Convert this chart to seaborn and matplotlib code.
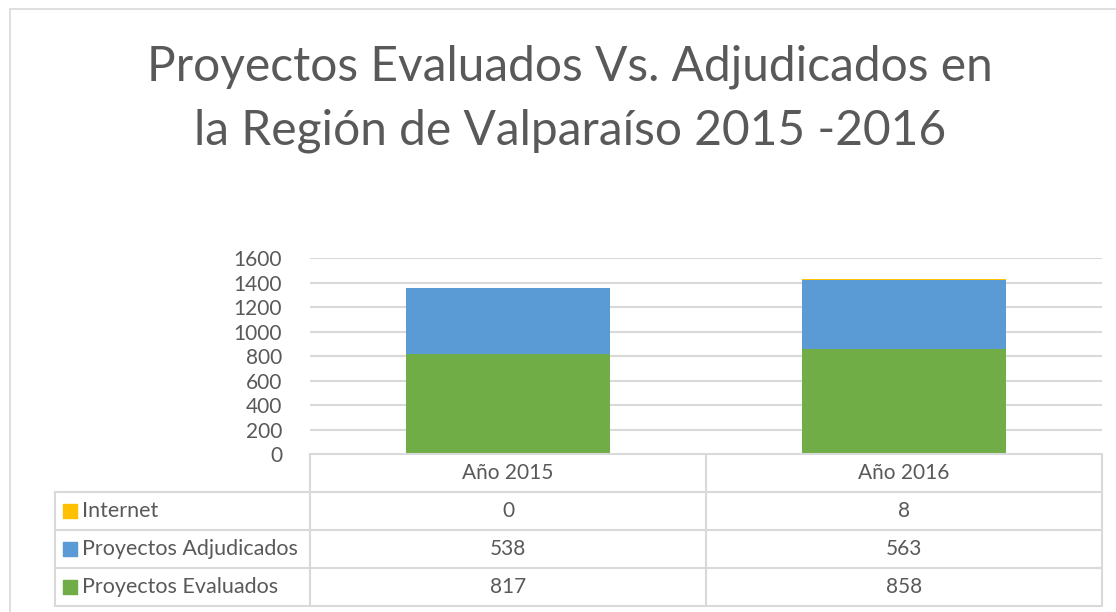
import matplotlib
matplotlib.use('Agg')
import matplotlib.pyplot as plt
import seaborn as sns
import pandas as pd
import numpy as np

# data
years = ['Año 2015', 'Año 2016']
series_names = ['Internet', 'Proyectos Adjudicados', 'Proyectos Evaluados']
internet = [0, 8]
adjudicados = [538, 563]
evaluados = [817, 858]
colors = {'Internet': '#FFC000', 'Proyectos Adjudicados': '#5B9BD5', 'Proyectos Evaluados': '#70AD47'}
y_ticks = [0, 200, 400, 600, 800, 1000, 1200, 1400, 1600]

sns.set_style('white')
plt.rcParams['font.family'] = ['Lato', 'DejaVu Sans']
txt = '#595959'
grid = '#D9D9D9'

W, H = 1116, 612
fig = plt.figure(figsize=(W / 100, H / 100), dpi=100)


def box(x0, y0, x1, y1):
    return [x0 / W, 1 - y1 / H, (x1 - x0) / W, (y1 - y0) / H]


# stacked bars: draw cumulative totals from the top down
df = pd.DataFrame({'year': years, 'Internet': internet,
                   'Proyectos Adjudicados': adjudicados,
                   'Proyectos Evaluados': evaluados})
df['top_int'] = df['Internet'] + df['Proyectos Adjudicados'] + df['Proyectos Evaluados']
df['top_adj'] = df['Proyectos Adjudicados'] + df['Proyectos Evaluados']
df['top_eva'] = df['Proyectos Evaluados']

ax = fig.add_axes(box(310, 258, 1102, 454))
for col, name in [('top_int', 'Internet'), ('top_adj', 'Proyectos Adjudicados'),
                  ('top_eva', 'Proyectos Evaluados')]:
    sns.barplot(data=df, x='year', y=col, color=colors[name], width=0.513,
                saturation=1, linewidth=0, ax=ax, zorder=3)
ax.set_xlim(-0.5, 1.5)
ax.set_ylim(0, 1600)
ax.set_yticks(y_ticks)
ax.set_yticklabels([str(t) for t in y_ticks], fontsize=15, color=txt)
ax.tick_params(axis='y', length=0, pad=20)
ax.set_xticks([])
ax.set_xlabel('')
ax.set_ylabel('')
for s in ax.spines.values():
    s.set_visible(False)
for t in y_ticks[1:]:
    ax.axhline(t, color=grid, lw=1.5, zorder=1)

# data table below the bars
tax = fig.add_axes(box(55, 454, 1104, 606))
left = -0.5 - 255 / 396
tax.set_xlim(left, 1.5 + 2 / 396)
tax.set_ylim(4, 0)
tax.axis('off')
lw = 1.5
# header cells
tax.plot([-0.5, 1.5], [0, 0], color=grid, lw=lw, clip_on=False)
for xv in [-0.5, 0.5, 1.5]:
    tax.plot([xv, xv], [0, 4], color=grid, lw=lw, clip_on=False)
for yv in [1, 2, 3, 4]:
    tax.plot([left, 1.5], [yv, yv], color=grid, lw=lw, clip_on=False)
tax.plot([left, left], [1, 4], color=grid, lw=lw, clip_on=False)
for i, yr in enumerate(years):
    tax.text(i, 0.5, yr, ha='center', va='center', fontsize=15, color=txt)
rows = [internet, adjudicados, evaluados]
for r, (name, vals) in enumerate(zip(series_names, rows)):
    yc = r + 1.5
    tax.scatter([left + 0.037], [yc], marker='s', s=90, color=colors[name], clip_on=False)
    tax.text(left + 0.068, yc, name, ha='left', va='center', fontsize=15.5, color=txt)
    for i, v in enumerate(vals):
        tax.text(i, yc, str(v), ha='center', va='center', fontsize=15, color=txt)

# chart area border
fig.add_artist(plt.Line2D([10 / W, 1], [1 - 9 / H, 1 - 9 / H], color=grid, lw=1.2))
fig.add_artist(plt.Line2D([10 / W, 10 / W], [0, 1 - 9 / H], color=grid, lw=1.2))

fig.text(570 / W, 1 - 67 / H, 'Proyectos Evaluados Vs. Adjudicados en',
         ha='center', va='center', fontsize=34.5, color=txt)
fig.text(570 / W, 1 - 131 / H, 'la Región de Valparaíso 2015 -2016',
         ha='center', va='center', fontsize=34.5, color=txt)

fig.savefig('out.png', dpi=100, facecolor='white')
